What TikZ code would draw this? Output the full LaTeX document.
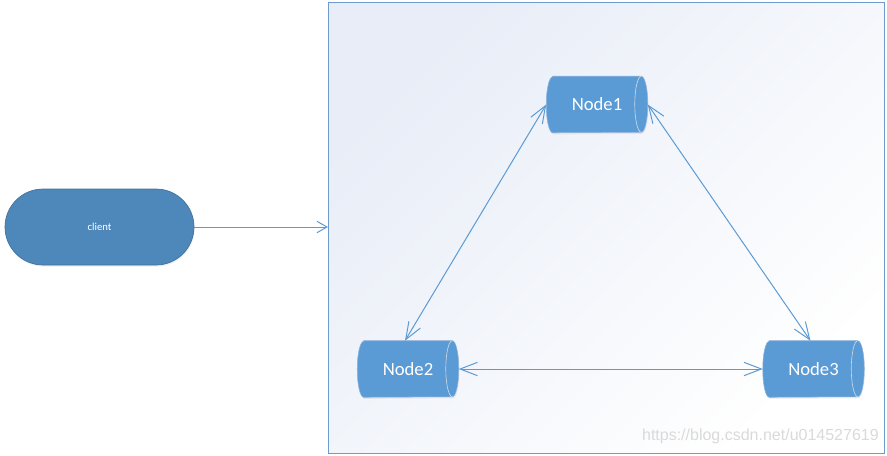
\documentclass[tikz,border=0pt]{standalone}
\usepackage{fontspec}
\setmainfont{Carlito}
\newfontfamily\wmfont{Liberation Sans}
\usetikzlibrary{arrows.meta,shadows}
\definecolor{nodefill}{HTML}{5B9BD5}
\definecolor{clientfill}{HTML}{4E87BA}
\definecolor{clientline}{HTML}{41719C}
\definecolor{linkcol}{HTML}{5B9BD5}
\definecolor{framecol}{HTML}{6D9BCF}
\definecolor{bgtop}{HTML}{E8EDF7}
\definecolor{bgmid}{HTML}{FAFBFD}
\definecolor{wmcol}{HTML}{DADADA}
\definecolor{cylline}{HTML}{8FB2DA}
\definecolor{innerline}{HTML}{C9D6E3}
\pgfdeclarelayer{bg}
\pgfsetlayers{bg,main}
\newcommand\cylbody[1]{%
  \path[cylfill] ([xshift=4.875pt]#1.north west) -- ([xshift=-4.875pt]#1.north east)
    arc[start angle=90, end angle=-90, x radius=4.875pt, y radius=21pt]
    -- ([xshift=4.875pt]#1.south west)
    arc[start angle=270, end angle=90, x radius=4.875pt, y radius=21pt] -- cycle;
  \draw[innerarc] ([xshift=-4.875pt]#1.north east)
    arc[start angle=90, end angle=270, x radius=4.875pt, y radius=21pt];
}
\begin{document}
\begin{tikzpicture}[x=0.75pt,y=-0.75pt,
  cylnode/.style={minimum width=75.75pt, minimum height=42pt, inner sep=0pt, text=white,
    font=\fontsize{14}{16}\selectfont},
  cylfill/.style={fill=nodefill, draw=cylline, line width=0.4pt,
    drop shadow={opacity=0.12, shadow xshift=0.5pt, shadow yshift=-1.2pt}},
  innerarc/.style={draw=innerline, line width=0.5pt},
  link/.style={draw=linkcol, line width=0.75pt,
    {Straight Barb[length=13pt,width=10pt]}-{Straight Barb[length=13pt,width=10pt]}},
  clientbox/.style={rectangle, rounded corners=28.5pt, minimum width=141.75pt, minimum height=57pt,
    fill=clientfill, draw=clientline, line width=0.5pt, text=white, font=\fontsize{8}{9}\selectfont,
    drop shadow={opacity=0.12, shadow xshift=0.5pt, shadow yshift=-1.2pt}},
  frame/.style={rectangle, inner sep=0pt, minimum width=417pt, minimum height=338.25pt,
    draw=framecol, line width=0.75pt, top color=bgtop, middle color=bgmid, bottom color=white,
    shading angle=45},
]
\useasboundingbox (0,0) rectangle (887,455);
\begin{pgfonlayer}{bg}
  \node[frame] (cluster) at (606.5,227.5) {};
\end{pgfonlayer}

\node[clientbox] (client) at (99.5,227) {client};
\draw[draw=linkcol, line width=0.75pt, -{Straight Barb[length=7.5pt,width=8.5pt]}]
  (client.east) -- (client.east -| cluster.west);

\node[cylnode] (Node1) at (597,104.5) {Node1\hspace{8pt}};
\node[cylnode] (Node2) at (408,369) {Node2\hspace{8pt}};
\node[cylnode] (Node3) at (813.5,369) {Node3\hspace{8pt}};

\begin{pgfonlayer}{bg}
  \cylbody{Node1}
  \cylbody{Node2}
  \cylbody{Node3}
\end{pgfonlayer}

\draw[link] (Node1.west) -- ([xshift=-2.25pt]Node2.north);
\draw[link] (Node1.east) -- ([xshift=-2.25pt]Node3.north);
\draw[link] (Node2.east) -- (Node3.west);

\node[anchor=east, inner sep=0pt, text=wmcol, font=\wmfont\fontsize{12}{14}\selectfont] (wm)
  at (879,436) {https://blog.csdn.net/u014527619};
\end{tikzpicture}
\end{document}
